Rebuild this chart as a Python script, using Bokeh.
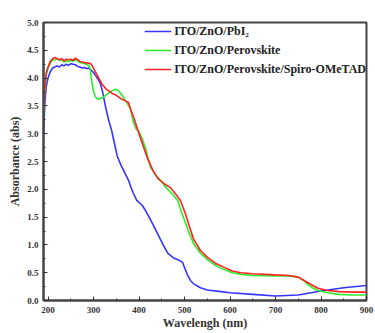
from bokeh.plotting import figure
from bokeh.models import Legend, LegendItem, FixedTicker, NumeralTickFormatter, Range1d
from bokeh.embed import file_html
from bokeh.resources import INLINE

# ---- data ----
wl_pbi2 = [190,193,196,200,205,210,215,220,225,230,235,240,245,250,255,260,265,270,275,280,285,290,295,300,305,310,315,320,326,333,340,344,352,360,366,372,377,383,388,395,403,408,414,420,430,441,452,463,475,487,496,502,507,513,520,535,550,580,600,650,700,750,800,850,900]
abs_pbi2 = [3.0,3.55,3.85,4.0,4.12,4.18,4.2,4.22,4.2,4.24,4.22,4.25,4.23,4.26,4.25,4.24,4.21,4.2,4.18,4.19,4.17,4.18,4.14,4.1,4.04,3.98,3.9,3.75,3.5,3.25,3.05,2.9,2.6,2.44,2.34,2.24,2.16,2.02,1.92,1.8,1.74,1.7,1.62,1.53,1.38,1.2,1.02,0.85,0.77,0.73,0.68,0.55,0.45,0.36,0.3,0.23,0.19,0.16,0.14,0.11,0.08,0.1,0.17,0.23,0.27]

wl_perov = [190,193,196,200,205,210,215,220,225,230,235,240,245,250,255,260,265,270,275,280,285,290,293,296,300,305,310,318,328,340,348,355,362,370,381,388,394,399,405,414,425,436,447,465,475,485,493,502,510,520,535,551,570,586,605,624,650,700,730,750,762,772,783,793,815,838,870,900]
abs_perov = [3.3,3.8,4.05,4.18,4.27,4.32,4.33,4.35,4.32,4.33,4.29,4.31,4.3,4.32,4.3,4.33,4.31,4.28,4.27,4.26,4.25,4.22,4.15,3.95,3.75,3.65,3.62,3.64,3.7,3.77,3.8,3.77,3.7,3.6,3.45,3.2,3.08,3.05,2.95,2.75,2.4,2.26,2.16,1.98,1.9,1.8,1.6,1.4,1.22,1.02,0.85,0.73,0.62,0.56,0.5,0.47,0.45,0.44,0.44,0.42,0.36,0.28,0.22,0.18,0.14,0.11,0.1,0.1]

wl_spiro = [190,193,196,200,205,210,215,220,225,230,235,240,245,250,255,260,265,270,275,280,285,290,295,300,305,310,318,328,340,350,360,370,377,381,388,396,405,418,430,441,455,469,480,491,502,510,520,535,551,570,586,605,624,650,700,730,750,765,780,793,815,840,870,900]
abs_spiro = [3.4,3.85,4.1,4.2,4.3,4.35,4.37,4.35,4.33,4.35,4.31,4.34,4.33,4.34,4.32,4.36,4.33,4.3,4.29,4.28,4.27,4.27,4.25,4.18,4.1,4.02,3.9,3.8,3.73,3.69,3.63,3.59,3.56,3.45,3.3,3.1,2.88,2.57,2.35,2.2,2.1,2.03,1.92,1.8,1.56,1.35,1.1,0.9,0.77,0.66,0.6,0.53,0.5,0.48,0.46,0.45,0.42,0.35,0.28,0.22,0.18,0.16,0.15,0.15]

labels = ["ITO/ZnO/PbI\u2082", "ITO/ZnO/Perovskite", "ITO/ZnO/Perovskite/Spiro-OMeTAD"]
colors = ["#3535ff", "#2aee2a", "#ff2222"]

x_major = [200, 300, 400, 500, 600, 700, 800, 900]
x_minor = [250, 350, 450, 550, 650, 750, 850]
y_major = [0.0, 0.5, 1.0, 1.5, 2.0, 2.5, 3.0, 3.5, 4.0, 4.5, 5.0]
y_minor = [0.25, 0.75, 1.25, 1.75, 2.25, 2.75, 3.25, 3.75, 4.25, 4.75]

FONT = "Liberation Serif"

p = figure(width=375, height=333, output_backend="svg", toolbar_location=None,
           x_range=Range1d(190, 900), y_range=Range1d(0, 5.0),
           min_border_left=43, min_border_top=22, min_border_right=9, min_border_bottom=33)

renderers = []
for xs, ys, c in [(wl_pbi2, abs_pbi2, colors[0]), (wl_perov, abs_perov, colors[1]), (wl_spiro, abs_spiro, colors[2])]:
    r = p.line(xs, ys, line_color=c, line_width=1.6)
    renderers.append(r)

p.grid.visible = False
p.outline_line_color = "#444444"
p.outline_line_width = 2

for ax in (p.xaxis[0], p.yaxis[0]):
    ax.axis_line_color = "#444444"
    ax.axis_line_width = 2
    ax.major_tick_in = 4
    ax.major_tick_out = 0
    ax.minor_tick_in = 2
    ax.minor_tick_out = 0
    ax.major_tick_line_color = "#333333"
    ax.minor_tick_line_color = "#333333"
    ax.major_label_text_font = FONT
    ax.major_label_text_font_style = "bold"
    ax.major_label_text_font_size = "9px"
    ax.major_label_text_color = "#333333"
    ax.axis_label_text_font = FONT
    ax.axis_label_text_font_style = "bold"
    ax.axis_label_text_font_size = "12px"
    ax.axis_label_text_color = "#333333"

p.xaxis[0].ticker = FixedTicker(ticks=x_major, minor_ticks=x_minor)
p.yaxis[0].ticker = FixedTicker(ticks=y_major, minor_ticks=y_minor)
p.yaxis[0].formatter = NumeralTickFormatter(format="0.0")
p.xaxis[0].axis_label = "Wavelengh (nm)"
p.yaxis[0].axis_label = "Absorbance (abs)"
p.xaxis[0].major_label_standoff = 6
p.yaxis[0].major_label_standoff = 5
p.xaxis[0].axis_label_standoff = 0
p.yaxis[0].axis_label_standoff = 2

legend = Legend(items=[LegendItem(label=l, renderers=[r]) for l, r in zip(labels, renderers)],
                location="top_right")
legend.border_line_color = None
legend.background_fill_alpha = 0
legend.label_text_font = FONT
legend.label_text_font_style = "bold"
legend.label_text_font_size = "12px"
legend.label_text_color = "#222222"
legend.glyph_width = 27
legend.label_standoff = 3
legend.spacing = 1
legend.label_height = 18
legend.glyph_height = 18
legend.padding = 6
legend.margin = 0
legend.margin = 0
p.add_layout(legend)

open("out.html", "w").write(file_html(p, INLINE))
